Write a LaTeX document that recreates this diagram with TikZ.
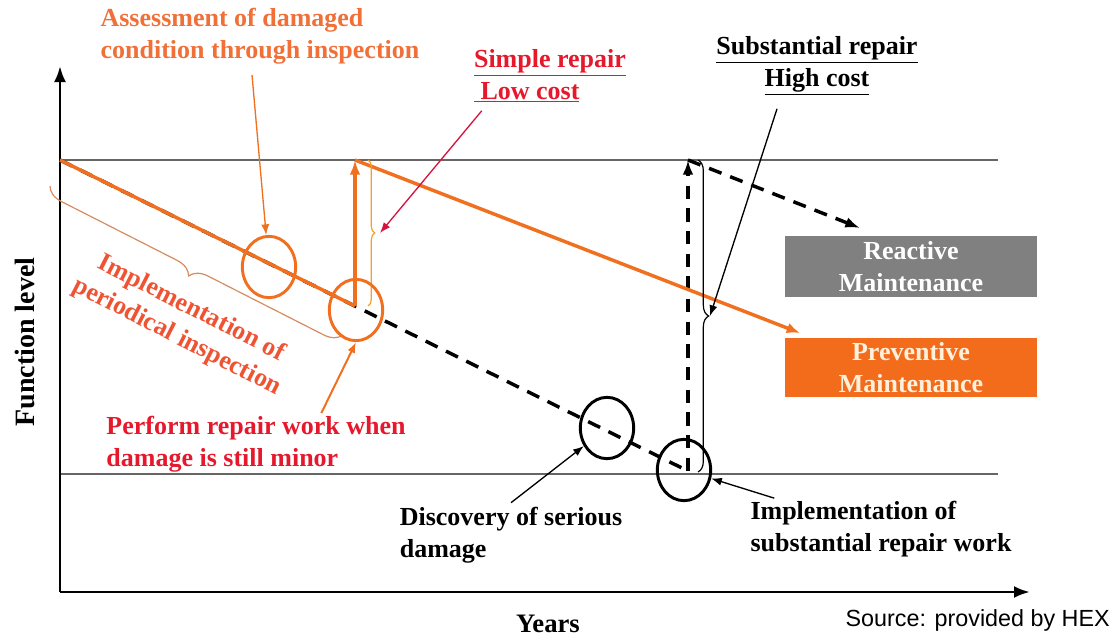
\documentclass[tikz,border=0pt]{standalone}
\usepackage{fontspec}
\setmainfont{Liberation Serif}
\newfontfamily\srcfont{Liberation Sans}
\usetikzlibrary{arrows.meta,shapes.geometric,decorations.pathreplacing}
\definecolor{hexorange}{RGB}{240,112,32}
\definecolor{hexlight}{RGB}{246,160,40}
\definecolor{hexbrown}{RGB}{214,140,96}
\definecolor{hexred}{RGB}{230,24,44}
\definecolor{hexcrimson}{RGB}{214,20,64}
\definecolor{hexassess}{RGB}{240,112,56}
\definecolor{hexperiod}{RGB}{238,84,52}
\definecolor{hexgray}{RGB}{128,128,128}
\definecolor{hexbox}{RGB}{242,108,28}
\definecolor{hexcream}{RGB}{255,240,220}
\tikzset{
  txt/.style={font=\fontsize{19.5}{24}\selectfont\bfseries, inner sep=0pt, align=left},
  ring/.style={ellipse, draw, line width=2.2pt, minimum width=40pt, minimum height=46pt, inner sep=0pt},
  axis/.style={line width=2.2pt, -{Latex[length=12pt,width=9pt]}},
  level/.style={draw=black!60, line width=0.8pt},
  trend/.style={line width=2.6pt},
  dashline/.style={trend, dash pattern=on 10pt off 7pt},
  bigtip/.style={-{Latex[length=11pt,width=8pt]}},
  ptr/.style={line width=1pt, -{Latex[length=8pt,width=6pt]}},
  brc/.style={decorate, decoration={brace, amplitude=#1}, line width=0.9pt},
  mbox/.style={txt, align=center, minimum width=189pt, minimum height=46pt}
}
\newcommand{\ring}[3]{\node[ring, draw=#3] (#1) at (#2) {};}

\begin{document}
\begin{tikzpicture}[x=0.75pt, y=-0.75pt]
\useasboundingbox (0,0) rectangle (1120,639);
% axes and levels
\coordinate (o) at (60,592);
\coordinate (ytop) at (60,66);
\coordinate (xend) at (1030,592);
\coordinate (start) at (60,160);
\coordinate (hiend) at (998,160);
\coordinate (lo) at (60,474);
\coordinate (loend) at (998,474);
\draw[level] (start) -- (hiend);
\draw[level] (lo) -- (loend);
\draw[axis] (o) -- (ytop);
\draw[axis] (o) -- (xend);

% curves
\coordinate (rep) at (355,306);
\coordinate (reptop) at (355,160);
\coordinate (prev) at (800,333);
\coordinate (fail) at (688,471);
\coordinate (failtop) at (688,160);
\coordinate (react) at (860,228);
\draw[dashline] (start) -- (fail);
\draw[dashline, bigtip] (fail) -- (failtop);
\draw[dashline, bigtip] (failtop) -- (react);
\draw[trend, hexorange] (start) -- (rep);
\draw[trend, hexorange, bigtip] (rep) -- (reptop);
\draw[trend, hexorange, -{Latex[length=10pt,width=8pt]}] (reptop) -- (prev);

% braces
\draw[brc=5pt, hexlight] (368,160) -- (368,306);
\coordinate (otip) at (380,233);
\draw[brc=8pt] (698,160) -- (698,472);
\coordinate (btip) at (710,316);
\draw[brc=13pt, hexbrown] (343,335) -- (50,186);

% circles
\ring{oc1}{269,267}{hexorange}
\ring{oc2}{356,310}{hexorange}
\ring{bc1}{607,428}{black}
\ring{bc2}{684,470}{black}

% labels
\node[txt, text=hexassess] (assess) at (260,36) {Assessment of damaged\\condition through inspection};
\node[txt, text=hexred] (simple) at (550,76) {\underline{Simple repair}\\\underline{\ Low cost}};
\node[txt, align=center] (subst) at (817,66) {\underline{Substantial repair}\\\underline{High cost}};
\node[txt, align=center, text=hexperiod, rotate=-27] (period) at (184,323) {Implementation of\\periodical inspection};
\node[txt, text=hexred] (perform) at (256,444) {Perform repair work when\\damage is still minor};
\node[txt] (discov) at (511,535) {Discovery of serious\\damage};
\node[txt] (implsub) at (881,529) {Implementation of\\substantial repair work};
\node[txt, font=\fontsize{21}{24}\selectfont\bfseries, rotate=90] (flev) at (25,342) {Function level};
\node[txt, font=\fontsize{20}{24}\selectfont\bfseries] (years) at (548,624) {Years};
\node[font=\srcfont\fontsize{17.5}{20}\selectfont, anchor=east, inner sep=0pt] (src) at (1110,620) {Source: provided by HEX};
\node[mbox, fill=hexgray, text=white] (reactive) at (911,266.5) {Reactive\\Maintenance};
\node[mbox, fill=hexbox, text=hexcream, minimum height=44pt] (preventive) at (911,367.5) {Preventive\\Maintenance};

% pointers
\draw[ptr, hexorange] ([xshift=-6pt,yshift=-8pt]assess.south) -- (oc1);
\draw[ptr, hexorange, line width=1.5pt] ([xshift=49pt,yshift=2pt]perform.north) -- (oc2.south);
\draw[ptr, hexcrimson] ([xshift=6pt,yshift=-6pt]simple.south west) -- (otip);
\draw[ptr] ([xshift=-30pt,yshift=-10pt]subst.south) -- (btip);
\draw[ptr] ([yshift=3pt]discov.north) -- (bc1);
\draw[ptr] ([xshift=18pt,yshift=2pt]implsub.north west) -- (bc2);
\end{tikzpicture}
\end{document}
